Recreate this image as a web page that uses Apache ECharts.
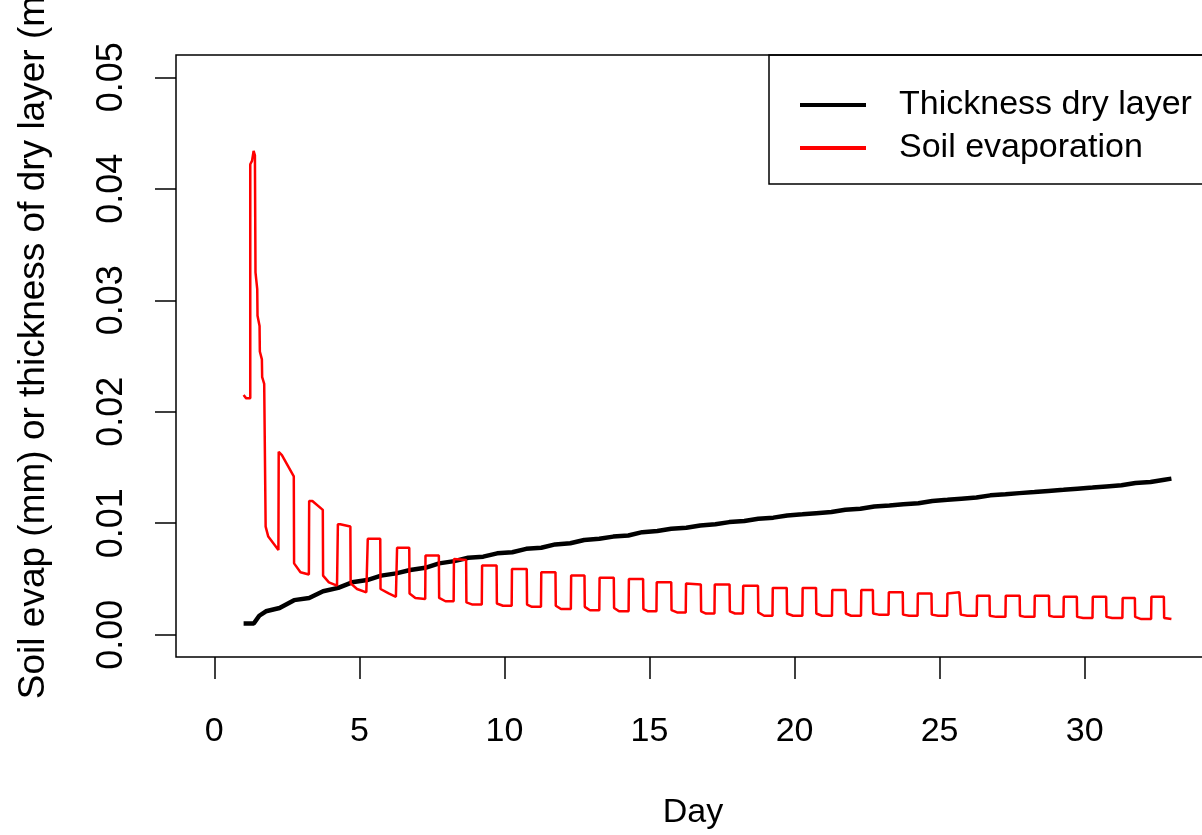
<!DOCTYPE html>
<html><head><meta charset="utf-8">
<script src="https://cdn.jsdelivr.net/npm/echarts@6/dist/echarts.min.js"></script>
<style>html,body{margin:0;padding:0;background:#fff}#c{width:1202px;height:835px}</style>
</head><body><div id="c"></div>
<script>
const xTicks = [0, 5, 10, 15, 20, 25, 30];
const yTicks = [0, 0.01, 0.02, 0.03, 0.04, 0.05];
const xTitle = 'Day';
const yTitle = 'Soil evap (mm) or thickness of dry layer (mm)';
const legendNames = ['Thickness dry layer', 'Soil evaporation'];

const evapDays = [
  1.01,1.10,1.24,1.24,1.30,1.355,1.40,1.42,1.48,1.49,1.56,1.57,1.64,1.65,1.72,1.77,1.86,2.21,
  2.22,2.33,2.74,2.75,2.97,3.26,
  3.27,3.38,3.74,3.75,3.95,4.23,
  4.26,4.34,4.69,4.70,4.92,5.24,
  5.29,5.72,5.73,6.01,6.26,
  6.30,6.72,6.73,6.93,7.27,
  7.28,7.74,7.75,7.97,8.25,
  8.26,8.68,8.69,8.90,9.22,
  9.23,9.73,9.74,9.95,10.25,
  10.26,10.77,10.78,10.95,11.26,
  11.27,11.76,11.77,11.95,12.29,
  12.30,12.76,12.77,12.95,13.27,
  13.28,13.77,13.78,13.95,14.28,
  14.29,14.78,14.79,14.95,15.24,
  15.25,15.75,15.76,15.95,16.25,
  16.26,16.77,16.78,16.95,17.24,
  17.25,17.76,17.77,17.95,18.22,
  18.23,18.74,18.75,18.95,19.24,
  19.25,19.73,19.74,19.95,20.27,
  20.28,20.74,20.75,20.95,21.29,
  21.30,21.76,21.77,21.95,22.29,
  22.30,22.70,22.71,22.90,23.24,
  23.25,23.73,23.74,23.95,24.24,
  24.25,24.72,24.73,24.95,25.26,
  25.27,25.68,25.72,25.73,25.95,26.28,
  26.29,26.72,26.73,26.95,27.27,
  27.28,27.76,27.77,27.95,28.27,
  28.28,28.77,28.78,28.95,29.27,
  29.28,29.73,29.74,29.95,30.27,
  30.28,30.74,30.75,30.95,31.30,
  31.31,31.73,31.74,31.95,32.29,
  32.30,32.73,32.74,32.99
];
const evapValues = [
  0.0215,0.0212,0.0212,0.0422,0.0425,0.0434,0.0430,0.0325,0.0310,0.0286,0.0277,0.0254,0.0247,0.0231,0.0225,0.0097,0.0088,0.0076,
  0.0164,0.0161,0.0142,0.0064,0.0056,0.0054,
  0.0120,0.0120,0.0112,0.0053,0.0047,0.0044,
  0.0099,0.0099,0.0097,0.0046,0.0041,0.0038,
  0.0086,0.0086,0.0041,0.0037,0.0034,
  0.0078,0.0078,0.0037,0.0033,0.0032,
  0.0071,0.0071,0.0033,0.0030,0.0030,
  0.0068,0.0067,0.0029,0.0027,0.0027,
  0.0062,0.0062,0.0028,0.0026,0.0026,
  0.0059,0.0059,0.0027,0.0025,0.0025,
  0.0056,0.0056,0.0026,0.0023,0.0023,
  0.0053,0.0053,0.0025,0.0022,0.0022,
  0.0051,0.0051,0.0024,0.0021,0.0021,
  0.0050,0.0050,0.0023,0.0021,0.0021,
  0.0047,0.0047,0.0022,0.0020,0.0020,
  0.0046,0.0045,0.0021,0.0019,0.0019,
  0.0045,0.0045,0.0021,0.0019,0.0019,
  0.0044,0.0044,0.0020,0.0017,0.0017,
  0.0042,0.0042,0.0019,0.0017,0.0017,
  0.0042,0.0042,0.0019,0.0017,0.0017,
  0.0040,0.0040,0.0019,0.0017,0.0017,
  0.0040,0.0040,0.0019,0.0018,0.0018,
  0.0038,0.0038,0.0018,0.0017,0.0017,
  0.0037,0.0037,0.0018,0.0017,0.0017,
  0.0037,0.0038,0.0037,0.0018,0.0017,0.0017,
  0.0035,0.0035,0.0017,0.0016,0.0016,
  0.0035,0.0035,0.0017,0.0016,0.0016,
  0.0035,0.0035,0.0017,0.0016,0.0016,
  0.0034,0.0034,0.0016,0.0015,0.0015,
  0.0034,0.0034,0.0016,0.0015,0.0015,
  0.0033,0.0033,0.0016,0.0014,0.0014,
  0.0034,0.0034,0.0015,0.0014
];

const dryDays = [
  1.01,1.36,1.55,1.78,2.25,2.75,3.27,3.75,4.27,4.75,5.27,5.75,6.27,6.75,7.27,7.75,8.27,8.75,9.27,9.75,
  10.27,10.75,11.27,11.75,12.27,12.75,13.27,13.75,14.27,14.75,15.27,15.75,16.27,16.75,17.27,17.75,
  18.27,18.75,19.27,19.75,20.27,20.75,21.27,21.75,22.27,22.75,23.27,23.75,24.27,24.75,25.27,25.75,
  26.27,26.75,27.27,27.75,28.27,28.75,29.27,29.75,30.27,30.75,31.27,31.75,32.27,32.75,32.99
];
const dryValues = [
  0.0010,0.0010,0.0017,0.0021,0.0024,0.0031,0.0033,0.0039,0.0042,0.0047,0.0049,0.0053,0.0055,0.0058,0.0060,0.0064,0.0066,0.0069,0.0070,0.0073,
  0.0074,0.0077,0.0078,0.0081,0.0082,0.0085,0.0086,0.0088,0.0089,0.0092,0.0093,0.0095,0.0096,0.0098,0.0099,0.0101,
  0.0102,0.0104,0.0105,0.0107,0.0108,0.0109,0.0110,0.0112,0.0113,0.0115,0.0116,0.0117,0.0118,0.0120,0.0121,0.0122,
  0.0123,0.0125,0.0126,0.0127,0.0128,0.0129,0.0130,0.0131,0.0132,0.0133,0.0134,0.0136,0.0137,0.0139,0.0140
];

const FONT = 'Liberation Sans, Arial, sans-serif';
const zip = (a, b) => a.map((v, i) => [v, b[i]]);

const chart = echarts.init(document.getElementById('c'), null, {renderer: 'canvas'});
chart.setOption({
  animation: false,
  backgroundColor: '#fff',
  grid: {left: 176, right: -8, top: 55, bottom: 178, show: true, borderColor: '#000', borderWidth: 1.5,
    backgroundColor: 'transparent', containLabel: false, outerBoundsMode: 'none'},
  xAxis: {
    type: 'value', min: -1.32, max: 34.32,
    axisLine: {show: false, onZero: false},
    splitLine: {show: false},
    axisTick: {show: true, inside: false, length: 22, customValues: xTicks, lineStyle: {color: '#000', width: 1.5}},
    axisLabel: {customValues: xTicks, color: '#000', fontSize: 34, fontFamily: FONT, margin: 58},
    name: xTitle, nameLocation: 'middle', nameGap: 139,
    nameTextStyle: {color: '#000', fontSize: 34, fontFamily: FONT}
  },
  yAxis: {
    type: 'value', min: -0.002, max: 0.052,
    axisLine: {show: false, onZero: false},
    splitLine: {show: false},
    axisTick: {show: true, inside: false, length: 21, customValues: yTicks, lineStyle: {color: '#000', width: 1.5}},
    axisLabel: {customValues: yTicks, color: '#000', fontSize: 36, fontFamily: FONT, margin: 46, rotate: 90,
      formatter: v => v.toFixed(2)},
    name: yTitle, nameLocation: 'middle', nameGap: 124,
    nameTextStyle: {color: '#000', fontSize: 37, fontFamily: FONT, padding: [0, 0, 0, 60]}
  },
  legend: {
    orient: 'vertical', left: 769, top: 55,
    borderColor: '#000', borderWidth: 1.5, padding: [33, 60, 19, 31],
    itemWidth: 66, itemHeight: 4, itemGap: 9, icon: 'rect',
    textStyle: {color: '#000', fontSize: 34, fontFamily: FONT, padding: [0, 0, 0, 28]},
    data: legendNames
  },
  series: [
    {name: legendNames[0], type: 'line', data: zip(dryDays, dryValues), symbol: 'none', showSymbol: false,
      lineStyle: {color: '#000', width: 4.5}, itemStyle: {color: '#000'}, z: 2},
    {name: legendNames[1], type: 'line', data: zip(evapDays, evapValues), symbol: 'none', showSymbol: false,
      lineStyle: {color: '#ff0000', width: 2.5}, itemStyle: {color: '#ff0000'}, z: 3}
  ]
});
</script>
</body></html>
